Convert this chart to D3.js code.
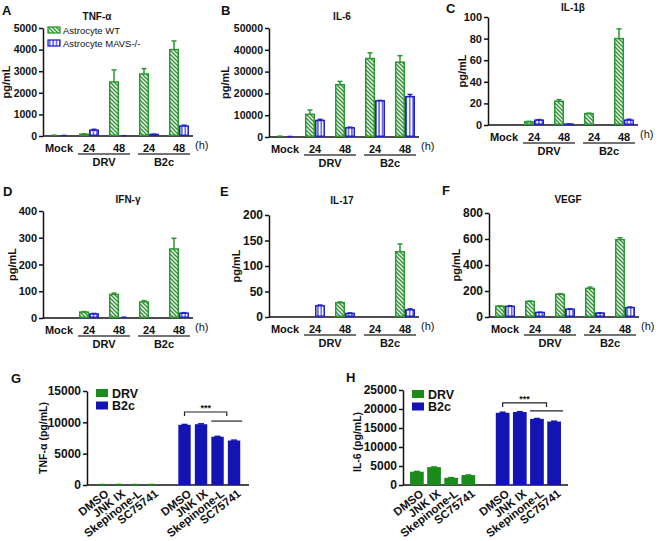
<!DOCTYPE html>
<meta charset="utf-8">
<script src="https://d3js.org/d3.v7.min.js"></script>
<style>
body { margin: 0; background: #fff; }
svg text { font-family: "Liberation Sans", Arial, sans-serif; fill: #111; }
.axis text { font-weight: bold; }
.axis path, .axis line { stroke: #111; stroke-width: 1.5; }
</style>
<body>
<script>
// categories (panels A-F)
var groups = ["Mock", "DRV24", "DRV48", "B2c24", "B2c48"];
var hourLabels = ["Mock", "24", "48", "24", "48"];
var virusGroups = ["DRV", "B2c"];
var seriesNames = ["Astrocyte WT", "Astrocyte MAVS-/-"];

// A TNF-a
var tnfWT = [30, 80, 2500, 2870, 4000];
var tnfWTErr = [10, 20, 560, 250, 400];
var tnfKO = [20, 270, 10, 70, 460];
var tnfKOErr = [5, 40, 5, 15, 40];
// B IL-6
var il6WT = [300, 10400, 24000, 36000, 34300];
var il6WTErr = [100, 2000, 1500, 2600, 3000];
var il6KO = [200, 7600, 4200, 16600, 18500];
var il6KOErr = [50, 500, 300, 200, 1000];
// C IL-1b
var il1WT = [0, 3, 22, 10.5, 80];
var il1WTErr = [0, 0.4, 1.5, 0.5, 9];
var il1KO = [0, 4.5, 0.8, 0, 4.5];
var il1KOErr = [0, 0.5, 0.2, 0, 0.8];
// D IFN-g
var ifnWT = [0, 22, 88, 60, 258];
var ifnWTErr = [0, 2, 5, 5, 40];
var ifnKO = [0, 15, 2, 0, 18];
var ifnKOErr = [0, 2, 1, 0, 2];
// E IL-17
var il17WT = [0, 0, 28, 0, 128];
var il17WTErr = [0, 0, 1.5, 0, 15];
var il17KO = [0, 22, 7, 0, 14];
var il17KOErr = [0, 1.5, 1, 0, 2];
// F VEGF
var vegfWT = [83, 120, 175, 220, 595];
var vegfWTErr = [3, 3, 5, 10, 15];
var vegfKO = [82, 35, 60, 30, 72];
var vegfKOErr = [5, 2, 3, 2, 5];

// y ticks
var tnfTicks = [0, 1000, 2000, 3000, 4000, 5000];
var il6Ticks = [0, 10000, 20000, 30000, 40000, 50000];
var il1Ticks = [0, 20, 40, 60, 80, 100];
var ifnTicks = [0, 100, 200, 300, 400];
var il17Ticks = [0, 50, 100, 150, 200];
var vegfTicks = [0, 200, 400, 600, 800];
var gTicks = [0, 5000, 10000, 15000];
var hTicks = [0, 5000, 10000, 15000, 20000, 25000];

// G / H
var inhibitors = ["DMSO", "JNK IX", "Skepinone-L", "SC75741"];
var treatGroups = ["DRV", "B2c"];
var gTnfDRV = [50, 60, 40, 50];
var gTnfB2c = [9600, 9700, 7700, 7100];
var gTnfErr = [60, 60, 60, 60];
var gSigLevels = [11650, 10200];
var hIl6DRV = [3500, 4700, 1900, 2600];
var hIl6B2c = [19000, 19200, 17400, 16700];
var hIl6Err = [150, 100, 100, 100];
var hSigLevels = [21600, 19500];

var green = "#2a9630", blue = "#2222cc";
var dGreen = "#1b8c1b", dBlue = "#1414b4";

var svg = d3.select("body").append("svg")
    .attr("width", 661).attr("height", 541);

// hatch patterns
var defs = svg.append("defs");
var pd = defs.append("pattern").attr("id", "diag")
    .attr("patternUnits", "userSpaceOnUse").attr("width", 4).attr("height", 4);
pd.append("rect").attr("width", 4).attr("height", 4).attr("fill", "#fff");
pd.append("path").attr("d", "M-1,-1L5,5M-1,3L1,5M3,-1L5,1")
    .attr("stroke", green).attr("stroke-width", 1.4);
var pv = defs.append("pattern").attr("id", "vert")
    .attr("patternUnits", "userSpaceOnUse").attr("width", 3.4).attr("height", 4);
pv.append("rect").attr("width", 3.4).attr("height", 4).attr("fill", "#fff");
pv.append("path").attr("d", "M1.7,0V4").attr("stroke", blue).attr("stroke-width", 1.1);

function drawTop(c) {
    var g = svg.append("g");
    var x = d3.scaleBand().domain(groups)
        .range([c.x0, c.x0 + 152]).paddingInner(1 / 3).paddingOuter(0.2);
    var y = d3.scaleLinear().domain([0, d3.max(c.ticks)]).range([c.yZero, c.yTop]);
    var bw = x.bandwidth() / 2;

    g.append("g").attr("class", "axis")
        .attr("transform", "translate(" + c.x0 + ",0)")
        .call(d3.axisLeft(y).tickValues(c.ticks).tickFormat(d3.format("d"))
            .tickSize(4).tickPadding(2).tickSizeOuter(0))
        .selectAll("text").attr("font-size", c.fs);
    g.append("line").attr("x1", c.x0).attr("x2", c.x0 + 150)
        .attr("y1", c.yZero).attr("y2", c.yZero)
        .attr("stroke", "#111").attr("stroke-width", 1.5);

    var sets = [
        {vals: c.wt, err: c.wtErr, off: 0, fill: "url(#diag)", col: green},
        {vals: c.ko, err: c.koErr, off: bw, fill: "url(#vert)", col: blue}
    ];
    sets.forEach(function(s) {
        groups.forEach(function(k, i) {
            var v = s.vals[i];
            if (v <= 0) return;
            var bx = x(k) + s.off;
            g.append("rect").attr("x", bx + 0.75).attr("y", y(v))
                .attr("width", bw - 1.5).attr("height", c.yZero - y(v) - 0.75)
                .attr("fill", s.fill).attr("stroke", s.col).attr("stroke-width", 1.5);
            if (s.err[i] > 0) {
                var cx = bx + bw / 2;
                g.append("line").attr("x1", cx).attr("x2", cx)
                    .attr("y1", y(v)).attr("y2", y(v + s.err[i]))
                    .attr("stroke", s.col).attr("stroke-width", 1.5);
                g.append("line").attr("x1", cx - 2.5).attr("x2", cx + 2.5)
                    .attr("y1", y(v + s.err[i])).attr("y2", y(v + s.err[i]))
                    .attr("stroke", s.col).attr("stroke-width", 1.5);
            }
        });
    });

    // x labels
    groups.forEach(function(k, i) {
        g.append("text").attr("x", x(k) + x.bandwidth() / 2).attr("y", c.yZero + 15.5)
            .attr("text-anchor", "middle").attr("font-size", 11).attr("font-weight", "bold")
            .text(hourLabels[i]);
    });
    g.append("text").attr("x", c.x0 + 152).attr("y", c.yZero + 13)
        .attr("font-size", 11).text("(h)");
    virusGroups.forEach(function(v, j) {
        var a = x(groups[1 + 2 * j]), b = x(groups[2 + 2 * j]) + x.bandwidth();
        g.append("line").attr("x1", a - 1).attr("x2", b + 1)
            .attr("y1", c.yZero + 18).attr("y2", c.yZero + 18)
            .attr("stroke", "#444").attr("stroke-width", 1.3);
        g.append("text").attr("x", (a + b) / 2).attr("y", c.yZero + 30)
            .attr("text-anchor", "middle").attr("font-size", 11).attr("font-weight", "bold")
            .text(v);
    });

    g.append("text").attr("x", c.tx).attr("y", c.ty).attr("text-anchor", "middle")
        .attr("font-size", 10).attr("font-weight", "bold").text(c.title);
    g.append("text").attr("x", c.lx).attr("y", c.ly)
        .attr("font-size", 13).attr("font-weight", "bold").text(c.letter);
    g.append("text")
        .attr("transform", "translate(" + c.ylx + "," + ((c.yTop + c.yZero) / 2) + ") rotate(-90)")
        .attr("text-anchor", "middle").attr("font-size", 11).attr("font-weight", "bold")
        .text("pg/mL");

    if (c.legend) {
        var lg = g.append("g").attr("transform", "translate(" + (c.x0 + 5) + "," + (c.yTop - 1) + ")");
        [["url(#diag)", green], ["url(#vert)", blue]].forEach(function(p, i) {
            lg.append("rect").attr("x", 0).attr("y", i * 13).attr("width", 12).attr("height", 6)
                .attr("fill", p[0]).attr("stroke", p[1]).attr("stroke-width", 1.3);
            lg.append("text").attr("x", 15).attr("y", i * 13 + 6.5)
                .attr("font-size", 9.5).text(seriesNames[i]);
        });
    }
}

drawTop({letter: "A", lx: 2, ly: 15, title: "TNF-α", tx: 97, ty: 20, x0: 43, yTop: 28, yZero: 136,
    ticks: tnfTicks, fs: 10.5, ylx: 10, wt: tnfWT, wtErr: tnfWTErr, ko: tnfKO, koErr: tnfKOErr, legend: true});
drawTop({letter: "B", lx: 221, ly: 15, title: "IL-6", tx: 342, ty: 20, x0: 269, yTop: 28, yZero: 137,
    ticks: il6Ticks, fs: 10.5, ylx: 229, wt: il6WT, wtErr: il6WTErr, ko: il6KO, koErr: il6KOErr});
drawTop({letter: "C", lx: 446, ly: 13, title: "IL-1β", tx: 573, ty: 11, x0: 488, yTop: 17, yZero: 125,
    ticks: il1Ticks, fs: 11, ylx: 466, wt: il1WT, wtErr: il1WTErr, ko: il1KO, koErr: il1KOErr});
drawTop({letter: "D", lx: 3, ly: 196, title: "IFN-γ", tx: 128, ty: 203, x0: 43, yTop: 211, yZero: 318,
    ticks: ifnTicks, fs: 11, ylx: 16, wt: ifnWT, wtErr: ifnWTErr, ko: ifnKO, koErr: ifnKOErr});
drawTop({letter: "E", lx: 220, ly: 196, title: "IL-17", tx: 342, ty: 204, x0: 269, yTop: 215, yZero: 317,
    ticks: il17Ticks, fs: 12, ylx: 240, wt: il17WT, wtErr: il17WTErr, ko: il17KO, koErr: il17KOErr});
drawTop({letter: "F", lx: 442, ly: 195, title: "VEGF", tx: 568, ty: 203, x0: 489, yTop: 213, yZero: 317,
    ticks: vegfTicks, fs: 12, ylx: 460, wt: vegfWT, wtErr: vegfWTErr, ko: vegfKO, koErr: vegfKOErr});

function drawBottom(c) {
    var g = svg.append("g");
    var keys = [];
    treatGroups.forEach(function(t, j) {
        if (j > 0) keys.push("gap");
        inhibitors.forEach(function(n) { keys.push(t + "|" + n); });
    });
    var x = d3.scaleBand().domain(keys).range([c.x0, c.x1])
        .paddingInner(c.pi).paddingOuter(c.po);
    var y = d3.scaleLinear().domain([0, d3.max(c.ticks)]).range([c.yZero, c.yTop]);
    var bw = x.bandwidth();
    var cols = [dGreen, dBlue];
    var vals = [c.drv, c.b2c];

    g.append("g").attr("class", "axis")
        .attr("transform", "translate(" + c.x0 + ",0)")
        .call(d3.axisLeft(y).tickValues(c.ticks).tickFormat(d3.format("d"))
            .tickSize(4).tickPadding(2).tickSizeOuter(0))
        .selectAll("text").attr("font-size", 12);
    g.append("line").attr("x1", c.x0).attr("x2", c.x1)
        .attr("y1", c.yZero).attr("y2", c.yZero)
        .attr("stroke", "#111").attr("stroke-width", 1.5);

    treatGroups.forEach(function(t, j) {
        inhibitors.forEach(function(n, i) {
            var k = t + "|" + n, v = vals[j][i];
            g.append("rect").attr("x", x(k)).attr("y", y(v))
                .attr("width", bw).attr("height", c.yZero - y(v))
                .attr("fill", cols[j]);
            var cx = x(k) + bw / 2, ev = v + (j ? c.err[i] : c.err[i] / 2);
            g.append("line").attr("x1", cx).attr("x2", cx).attr("y1", y(v)).attr("y2", y(ev))
                .attr("stroke", cols[j]).attr("stroke-width", 1.5);
            g.append("line").attr("x1", cx - 3).attr("x2", cx + 3).attr("y1", y(ev)).attr("y2", y(ev))
                .attr("stroke", cols[j]).attr("stroke-width", 1.5);
            g.append("text")
                .attr("transform", "translate(" + (cx + 5) + "," + (c.yZero + 7) + ") rotate(-38)")
                .attr("text-anchor", "end").attr("dy", "0.35em")
                .attr("font-size", 11.5).attr("font-weight", "bold").text(n);
        });
    });

    // significance bracket
    var xa = x("B2c|" + inhibitors[0]) + bw / 2;
    var l1 = x("B2c|" + inhibitors[2]), l2 = x("B2c|" + inhibitors[3]) + bw + 2;
    var xm = (l1 + l2) / 2, yb = y(c.sig[0]), yl = y(c.sig[1]);
    g.append("path").attr("d", "M" + xa + "," + (yb + 4) + "V" + yb + "H" + xm + "V" + (yb + 4))
        .attr("fill", "none").attr("stroke", "#222").attr("stroke-width", 1.2);
    g.append("line").attr("x1", l1).attr("x2", l2).attr("y1", yl).attr("y2", yl)
        .attr("stroke", "#222").attr("stroke-width", 1.2);
    g.append("text").attr("x", (xa + xm) / 2).attr("y", yb - 1).attr("text-anchor", "middle")
        .attr("font-size", 9).attr("font-weight", "bold").text("***");

    g.append("text").attr("x", c.lx).attr("y", c.ly)
        .attr("font-size", 13).attr("font-weight", "bold").text(c.letter);
    g.append("text")
        .attr("transform", "translate(" + c.ylx + "," + c.yly + ") rotate(-90)")
        .attr("text-anchor", "middle").attr("font-size", 10.5).attr("font-weight", "bold")
        .text(c.ylabel);

    var lg = g.append("g").attr("transform", "translate(" + c.legx + "," + c.legy + ")");
    treatGroups.forEach(function(t, j) {
        lg.append("rect").attr("x", 0).attr("y", j * 12.5).attr("width", 12).attr("height", 8)
            .attr("fill", cols[j]);
        lg.append("text").attr("x", 16).attr("y", j * 12.5 + 8.5)
            .attr("font-size", 12.5).attr("font-weight", "bold").text(t);
    });
}

drawBottom({letter: "G", lx: 11, ly: 383, x0: 87, x1: 249, yTop: 391, yZero: 485, ticks: gTicks,
    pi: 0.25, po: 0.53, drv: gTnfDRV, b2c: gTnfB2c, err: gTnfErr, sig: gSigLevels,
    ylabel: "TNF-α (pg/mL)", ylx: 47, yly: 438, legx: 96, legy: 389});
drawBottom({letter: "H", lx: 346, ly: 382, x0: 403, x1: 568, yTop: 390, yZero: 485, ticks: hTicks,
    pi: 0.2, po: 0.41, drv: hIl6DRV, b2c: hIl6B2c, err: hIl6Err, sig: hSigLevels,
    ylabel: "IL-6 (pg/mL)", ylx: 361, yly: 442, legx: 412, legy: 390});
</script>
</body>
